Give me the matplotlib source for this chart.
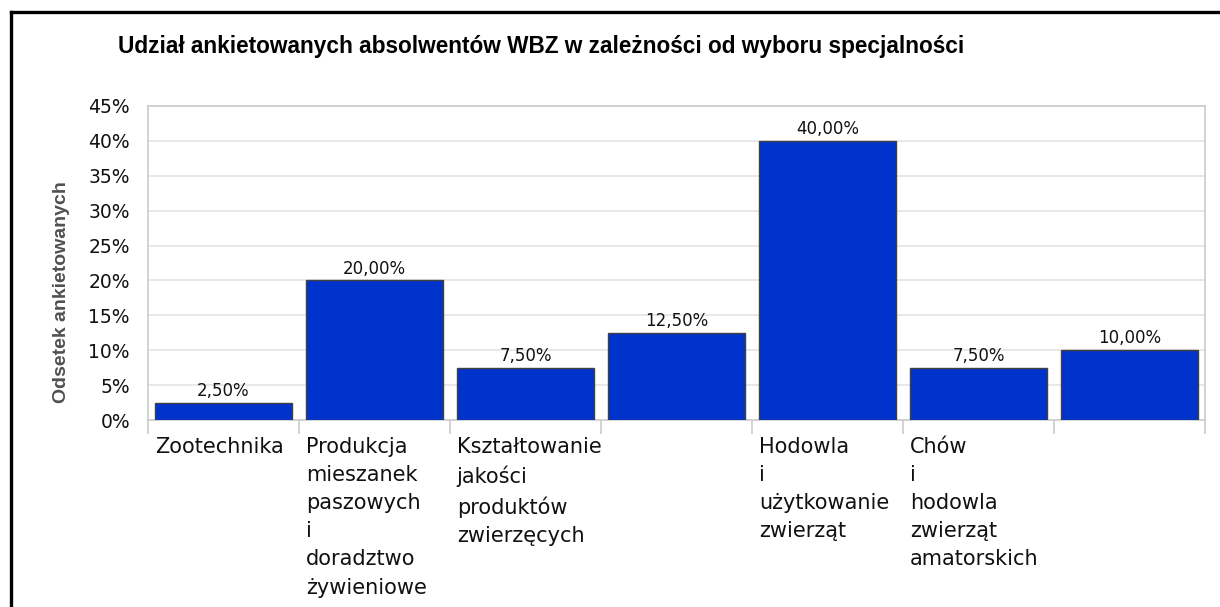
import matplotlib
matplotlib.use("Agg")
import matplotlib.pyplot as plt
from matplotlib.lines import Line2D
from matplotlib.ticker import FuncFormatter, MultipleLocator

categories = [
    "Zootechnika",
    "Produkcja\nmieszanek\npaszowych\ni\ndoradztwo\nżywieniowe",
    "Kształtowanie\njakości\nproduktów\nzwierzęcych",
    "",
    "Hodowla\ni\nużytkowanie\nzwierząt",
    "Chów\ni\nhodowla\nzwierząt\namatorskich",
    "",
]
shares = [2.5, 20.0, 7.5, 12.5, 40.0, 7.5, 10.0]
value_labels = ["2,50%", "20,00%", "7,50%", "12,50%", "40,00%", "7,50%", "10,00%"]

title = "Udział ankietowanych absolwentów WBZ w zależności od wyboru specjalności"
ylabel = "Odsetek ankietowanych"

W, H = 1220, 607
fig = plt.figure(figsize=(W / 100, H / 100), dpi=100)
fig.patch.set_facecolor("white")

# plot area in pixels: x 148..1205, y 106..420
ax = fig.add_axes([148 / W, (H - 420) / H, 1057 / W, 314 / H])

x = list(range(len(shares)))
ax.bar(x, shares, width=0.91, color="#0033cc", edgecolor="#404040", linewidth=1.0, zorder=3)
for xi, v, lab in zip(x, shares, value_labels):
    ax.annotate(lab, (xi, v), xytext=(0, 2), textcoords="offset points",
                ha="center", va="bottom", fontsize=12, color="#111111")

ax.set_xlim(-0.5, len(shares) - 0.5)
ax.set_ylim(0, 45)
ax.yaxis.set_major_locator(MultipleLocator(5))
ax.yaxis.set_major_formatter(FuncFormatter(lambda v, p: f"{v:.0f}%"))
ax.grid(axis="y", color="#e4e4e4", linewidth=1.2, zorder=0)
ax.tick_params(axis="y", length=0, labelsize=13.5, pad=13, colors="#111111")

for s in ax.spines.values():
    s.set_color("#cccccc")
    s.set_linewidth(1.2)

# category boundaries as ticks, labels drawn left-aligned inside each slot
ax.set_xticks([i - 0.5 for i in range(len(shares) + 1)])
ax.set_xticklabels([])
ax.tick_params(axis="x", length=10, width=1.2, color="#cccccc")
for xi, cat in zip(x, categories):
    ax.text(xi - 0.455, -2.4, cat, ha="left", va="top", fontsize=15,
            linespacing=1.51, color="#111111")

fig.text(541 / W, 1 - 46 / H, title, ha="center", va="center",
         fontsize=16.3, fontweight="bold", family="Liberation Sans")
fig.text(61 / W, 1 - 292 / H, ylabel, ha="center", va="center", rotation=90,
         fontsize=14, fontweight="bold", family="Liberation Sans", color="#505050")

# black frame on the left and top
fig.add_artist(Line2D([10.5 / W, 10.5 / W], [0, 1 - 11.5 / H], transform=fig.transFigure,
                      color="black", linewidth=2.4, solid_capstyle="projecting"))
fig.add_artist(Line2D([10.5 / W, 1], [1 - 11.5 / H, 1 - 11.5 / H], transform=fig.transFigure,
                      color="black", linewidth=2.4, solid_capstyle="projecting"))

fig.savefig("out.png", dpi=100)
